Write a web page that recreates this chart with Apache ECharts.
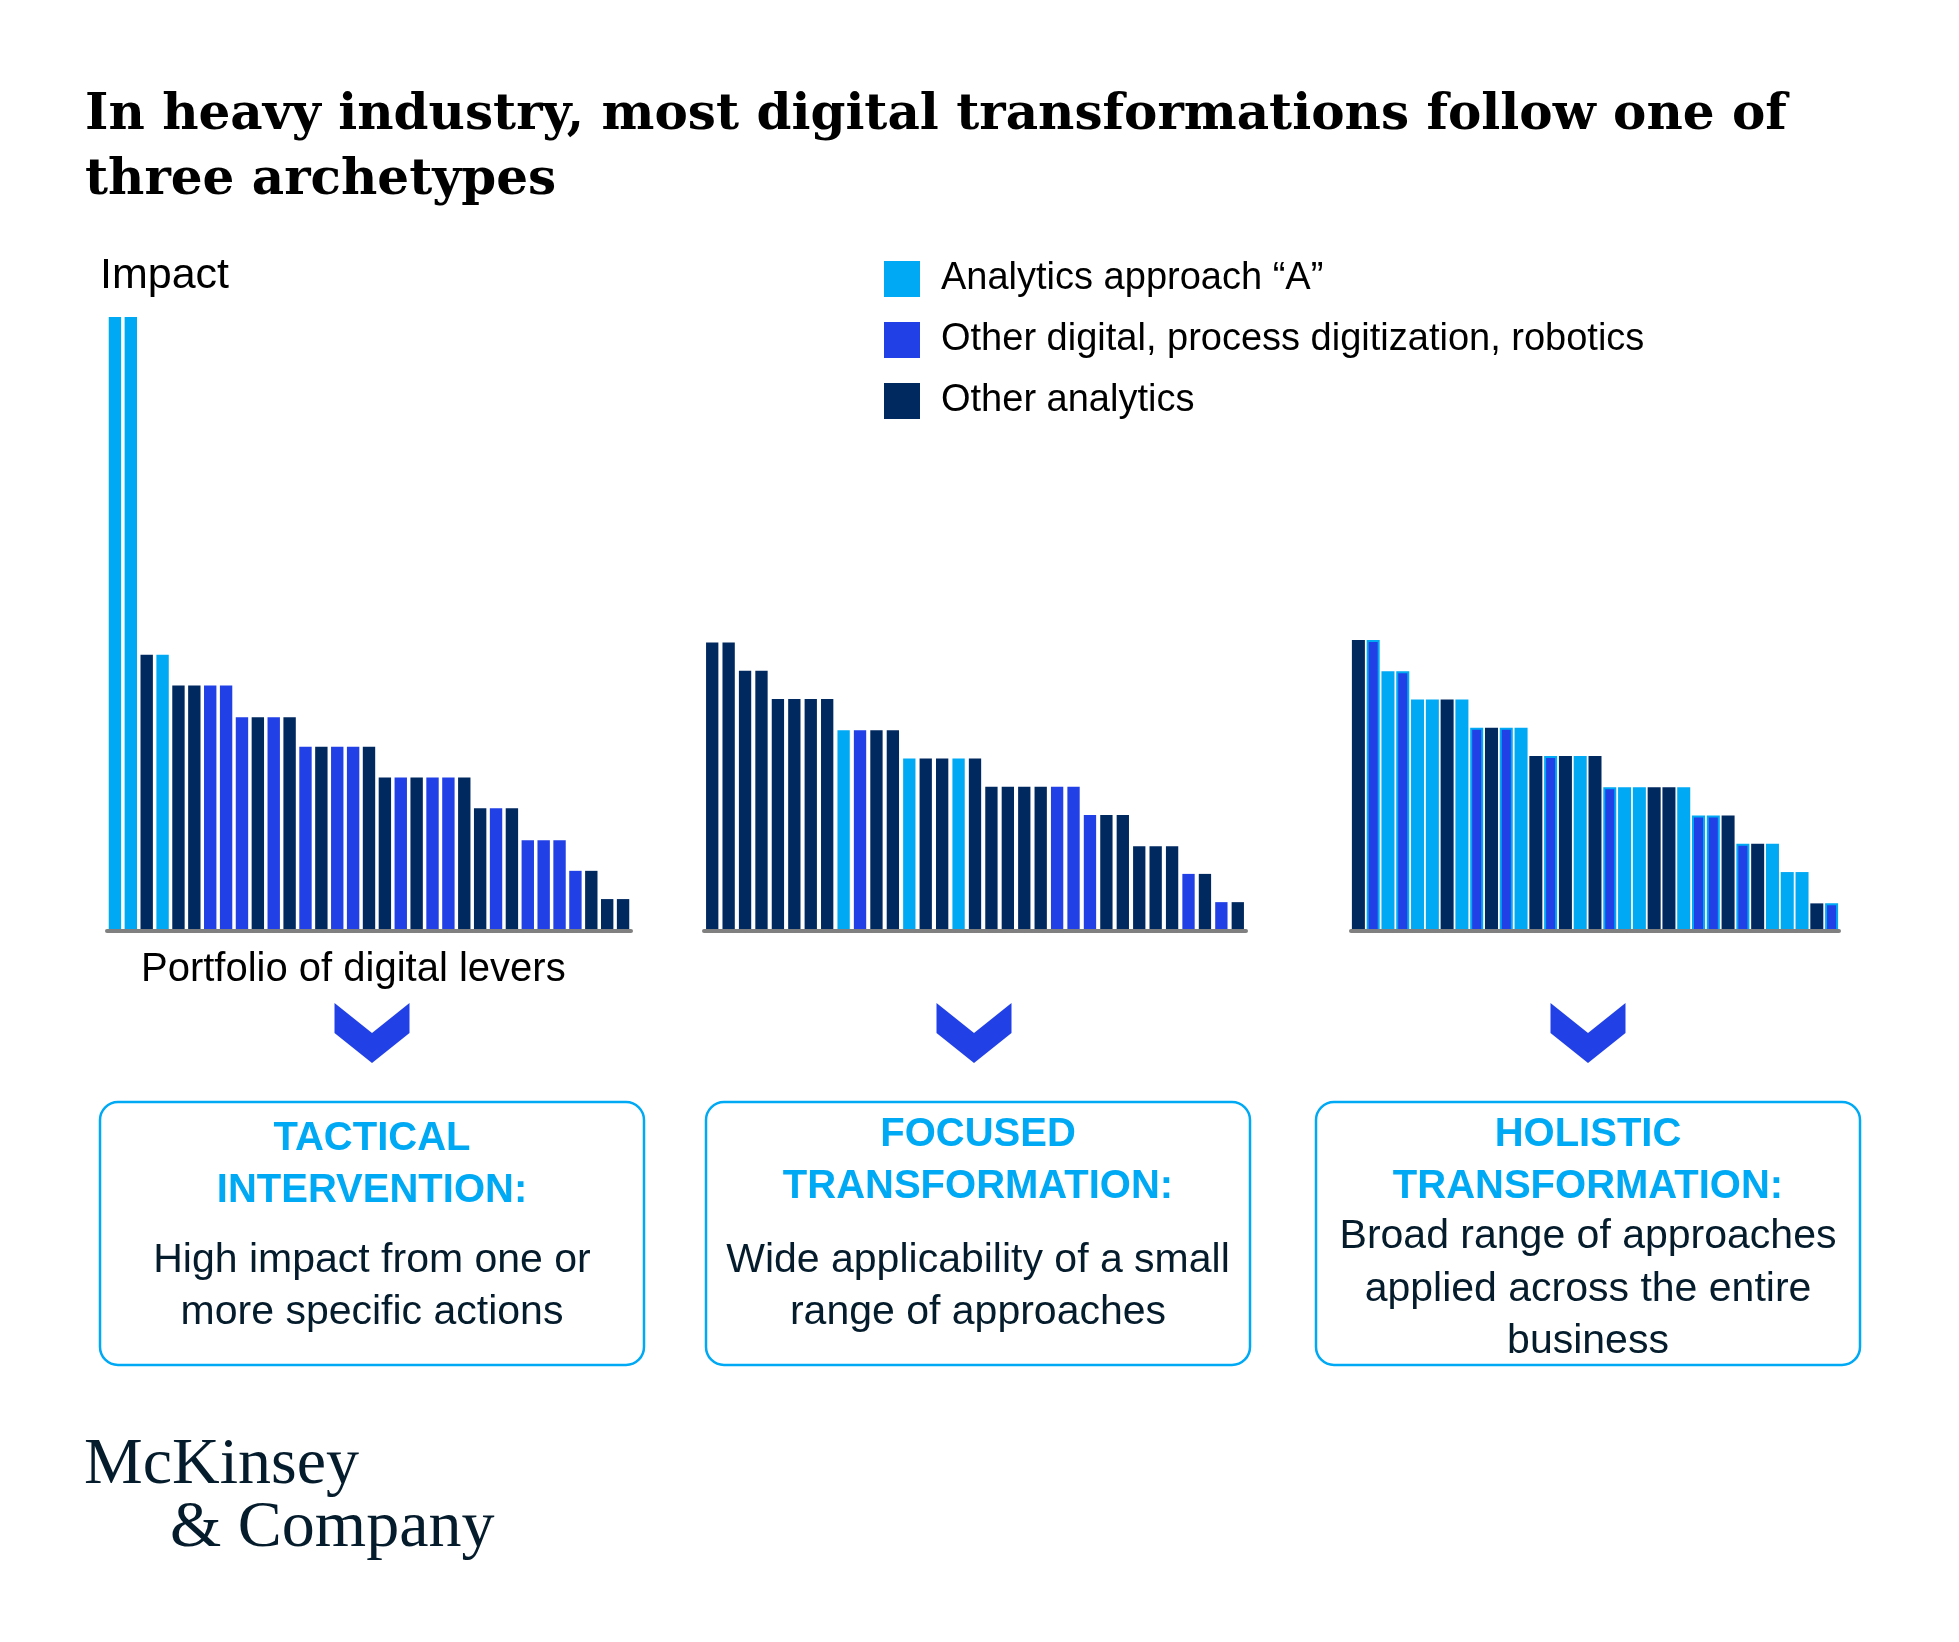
<!DOCTYPE html>
<html>
<head>
<meta charset="utf-8">
<script src="https://cdn.jsdelivr.net/npm/echarts@6/dist/echarts.min.js"></script>
<style>
html,body{margin:0;padding:0;background:#fff;}
#chart{width:1959px;height:1642px;}
</style>
</head>
<body>
<div id="chart"></div>
<script>
// ---- data ----
const seriesNames = ['Analytics approach \u201cA\u201d', 'Other digital, process digitization, robotics', 'Other analytics'];
const typeCodes = ['A', 'D', 'O'];
const categories = Array.from({length: 33}, (_, i) => 'Lever ' + (i + 1));

const tacticalValues = [100,100,45,45,40,40,40,40,34.8,34.8,34.8,34.8,30,30,30,30,30,25,25,25,25,25,25,20,20,20,14.8,14.8,14.8,9.8,9.8,5.2,5.2];
const tacticalTypes  = ['A','A','O','A','O','O','D','D','D','O','D','O','D','O','D','D','O','O','D','O','D','D','O','O','D','O','D','D','D','D','O','O','O'];

const focusedValues = [47,47,42.4,42.4,37.8,37.8,37.8,37.8,32.7,32.7,32.7,32.7,28.1,28.1,28.1,28.1,28.1,23.5,23.5,23.5,23.5,23.5,23.5,18.9,18.9,18.9,13.8,13.8,13.8,9.3,9.3,4.7,4.7];
const focusedTypes  = ['O','O','O','O','O','O','O','O','A','D','O','O','A','O','O','A','O','O','O','O','O','D','D','D','O','O','O','O','O','D','O','D','O'];

const holisticValues = [47.4,47.4,42.3,42.3,37.7,37.7,37.7,37.7,33.1,33.1,33.1,33.1,28.5,28.5,28.5,28.5,28.5,23.4,23.4,23.4,23.4,23.4,23.4,18.8,18.8,18.8,14.2,14.2,14.2,9.6,9.6,4.5,4.5];
const holisticTypes  = ['O','D','A','D','A','A','O','A','D','O','D','A','O','D','O','A','O','D','A','A','O','O','A','D','D','O','D','O','A','A','A','O','D'];

const boxHeadings = [['TACTICAL','INTERVENTION:'], ['FOCUSED','TRANSFORMATION:'], ['HOLISTIC','TRANSFORMATION:']];
const boxBodies = [['High impact from one or','more specific actions'], ['Wide applicability of a small','range of approaches'], ['Broad range of approaches','applied across the entire','business']];

// ---- styles ----
const colors = {A: '#00A9F4', D: '#2140E6', O: '#002960'};
const sans = '"Liberation Sans", Arial, sans-serif';
const serif = '"Liberation Serif", "Times New Roman", serif';
const titleSerif = '"DejaVu Serif", "Liberation Serif", serif';
const textDark = '#051C2C';

const panels = [
  {values: tacticalValues, types: tacticalTypes, left: 107, width: 524, gap: '22%', border: false},
  {values: focusedValues, types: focusedTypes, left: 704, width: 542, gap: '25%', border: false},
  {values: holisticValues, types: holisticTypes, left: 1351, width: 488, gap: '12%', border: true}
];

const grids = [], xAxes = [], yAxes = [], series = [];
panels.forEach((p, pi) => {
  grids.push({left: p.left, top: 317, width: p.width, height: 614, containLabel: false});
  xAxes.push({
    type: 'category', gridIndex: pi, data: categories, z: 5,
    axisLine: {show: true, lineStyle: {color: '#808080', width: 4}},
    axisTick: {show: false}, axisLabel: {show: false}, splitLine: {show: false}
  });
  yAxes.push({type: 'value', gridIndex: pi, min: 0, max: 100, show: false, splitLine: {show: false}});
  typeCodes.forEach((code, ci) => {
    const item = {color: colors[code]};
    if (p.border && code === 'D') { item.borderColor = '#00A9F4'; item.borderWidth = 2; }
    series.push({
      name: seriesNames[ci], type: 'bar', xAxisIndex: pi, yAxisIndex: pi,
      stack: 'panel' + pi, barCategoryGap: p.gap,
      itemStyle: item, emphasis: {disabled: true}, silent: true,
      data: p.values.map((v, i) => p.types[i] === code ? v : '-')
    });
  });
});

// ---- graphics ----
const graphic = [];
graphic.push({type: 'text', x: 100, y: 276, style: {text: 'Impact', font: '43px ' + sans, fill: '#000', textVerticalAlign: 'middle'}});
graphic.push({type: 'text', x: 141, y: 970, style: {text: 'Portfolio of digital levers', font: '40px ' + sans, fill: '#000', textVerticalAlign: 'middle'}});

const boxLefts = [100, 706, 1316];
const boxWidth = 544;
const chevronCenters = [372, 974, 1588];
boxLefts.forEach((bl, bi) => {
  const cx = chevronCenters[bi];
  graphic.push({type: 'polygon', shape: {points: [[cx-37.5,1003],[cx,1033],[cx+37.5,1003],[cx+37.5,1033],[cx,1063],[cx-37.5,1033]]}, style: {fill: '#2140E6'}});
  graphic.push({type: 'rect', shape: {x: bl, y: 1102, width: boxWidth, height: 263, r: 18}, style: {fill: 'none', stroke: '#00A9F4', lineWidth: 2.5}});
  const tx = bl + boxWidth / 2;
  const hy = bi === 0 ? [1139, 1191] : [1135, 1187];
  boxHeadings[bi].forEach((t, li) => {
    graphic.push({type: 'text', x: tx, y: hy[li], style: {text: t, font: 'bold 40px ' + sans, fill: '#00A9F4', textAlign: 'center', textVerticalAlign: 'middle'}});
  });
  const by = bi === 2 ? [1237, 1290, 1342] : [1261, 1313];
  boxBodies[bi].forEach((t, li) => {
    graphic.push({type: 'text', x: tx, y: by[li], style: {text: t, font: '41px ' + sans, fill: textDark, textAlign: 'center', textVerticalAlign: 'middle'}});
  });
});

graphic.push({type: 'text', x: 84, y: 1499, style: {text: 'McKinsey', font: '66px ' + serif, fill: textDark, textVerticalAlign: 'bottom'}});
graphic.push({type: 'text', x: 170, y: 1562, style: {text: '& Company', font: '66px ' + serif, fill: textDark, textVerticalAlign: 'bottom'}});

const chart = echarts.init(document.getElementById('chart'), null, {renderer: 'canvas'});
chart.setOption({
  animation: false,
  backgroundColor: '#ffffff',
  title: {
    text: 'In heavy industry, most digital transformations follow one of\nthree archetypes',
    left: 85, top: 84, padding: 0,
    textStyle: {fontFamily: titleSerif, fontWeight: 'bold', fontSize: 50, lineHeight: 65, color: '#000'}
  },
  legend: {
    data: seriesNames, orient: 'vertical', left: 884, top: 260, padding: 0,
    itemWidth: 36, itemHeight: 36, itemGap: 23, icon: 'rect', selectedMode: false,
    textStyle: {fontFamily: sans, fontSize: 38, color: '#000', padding: [0, 0, 0, 16]}
  },
  grid: grids, xAxis: xAxes, yAxis: yAxes, series: series, graphic: graphic
});
</script>
</body>
</html>
